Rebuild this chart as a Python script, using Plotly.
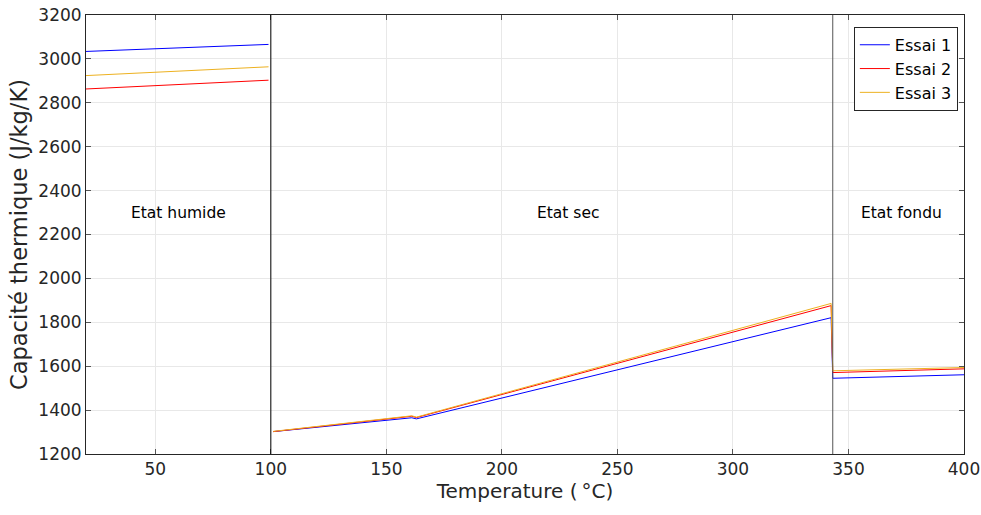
import plotly.graph_objects as go

# Humid state
T_humid = [20, 99]
e1_humid = [3034, 3066]
e2_humid = [2863, 2903]
e3_humid = [2924, 2964]

# Dry state
T_dry = [101, 161, 163, 342.5]
e1_dry = [1302, 1365, 1360, 1821]
e2_dry = [1302, 1372, 1366, 1876]
e3_dry = [1303, 1374, 1368, 1886]

# Molten state
T_melt = [343.2, 400]
e1_melt = [1545, 1561]
e2_melt = [1571, 1588]
e3_melt = [1579, 1594]

names = ["Essai 1", "Essai 2", "Essai 3"]
colors = ["#0000ff", "#ff0000", "#edb120"]

x_ticks = [50, 100, 150, 200, 250, 300, 350, 400]
y_ticks = list(range(1200, 3201, 200))

state_labels = ["Etat humide", "Etat sec", "Etat fondu"]
state_x = [60, 229, 373]
state_y = [2300, 2300, 2300]
boundaries = [100, 343.2]
boundary_colors = ["#000000", "#555555"]

series = [
    (e1_humid, e1_dry, e1_melt),
    (e2_humid, e2_dry, e2_melt),
    (e3_humid, e3_dry, e3_melt),
]

FONT = "DejaVu Sans, Liberation Sans, Arial, sans-serif"

fig = go.Figure()
for name, col, (h, d, m) in zip(names, colors, series):
    xs = T_humid + [None] + T_dry + T_melt
    ys = h + [None] + d + m
    fig.add_trace(go.Scatter(x=xs, y=ys, mode="lines", name=name,
                             line=dict(color=col, width=1), connectgaps=False))

for b, c in zip(boundaries, boundary_colors):
    fig.add_shape(type="line", xref="x", yref="paper", x0=b, x1=b, y0=0, y1=1,
                  line=dict(color=c, width=1))

for lab, x, y in zip(state_labels, state_x, state_y):
    fig.add_annotation(x=x, y=y, text=lab, showarrow=False,
                       font=dict(size=15.5, color="#000000", family=FONT))

axis_common = dict(
    showline=True, linecolor="#262626", linewidth=1, mirror="ticks",
    ticks="inside", ticklen=5, tickcolor="#555555",
    showgrid=True, gridcolor="#e8e8e8", gridwidth=1, zeroline=False,
    tickfont=dict(size=17, color="#262626", family=FONT), automargin=False,
    ticklabeloverflow="allow",
)

fig.update_layout(
    width=981, height=515,
    margin=dict(l=86, r=17, t=15, b=61),
    paper_bgcolor="white", plot_bgcolor="white",
    font=dict(family=FONT, color="#262626"),
    xaxis=dict(range=[20, 400], tickvals=x_ticks,
               title=dict(text="Temperature (\u2009°C)", font=dict(size=20), standoff=4),
               **axis_common),
    yaxis=dict(range=[1200, 3200], tickvals=y_ticks,
               title=dict(text="Capacité thermique (J/kg/K)", font=dict(size=22.5), standoff=4),
               **axis_common),
    legend=dict(x=0.993, y=0.973, xanchor="right", yanchor="top",
                bgcolor="white", bordercolor="#262626", borderwidth=1,
                font=dict(size=16, color="#000000", family=FONT), tracegroupgap=0,
                itemwidth=30),
    showlegend=True,
)

fig.write_html(
    "out.html",
    config={"displayModeBar": False},
    post_script="document.body.style.margin='0';document.body.style.overflow='hidden';",
)
